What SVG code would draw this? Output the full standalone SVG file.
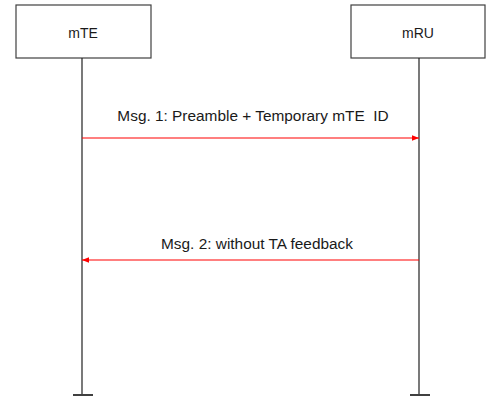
<svg xmlns="http://www.w3.org/2000/svg" width="486" height="399" viewBox="0 0 486 399">
<defs>
<style>
.box{fill:#fff;stroke:#404040;stroke-width:1.2}
.life{stroke:#202020;stroke-width:1.2;fill:none}
.bar{stroke:#404040;stroke-width:2;fill:none}
.msg{stroke:#ff0000;stroke-width:1.2;fill:none}
.lbl{font-family:"Liberation Sans",Arial,sans-serif;font-size:14px;fill:#1a1a1a;text-anchor:middle}
.mlbl{font-family:"Liberation Sans",Arial,sans-serif;font-size:15.4px;fill:#1a1a1a;text-anchor:middle;white-space:pre}
</style>
<marker id="ah" viewBox="0 0 10 10" refX="10" refY="5" markerWidth="7" markerHeight="7" orient="auto-start-reverse" markerUnits="userSpaceOnUse">
<path d="M0,1 L10,5 L0,9 z" fill="#ff0000"/>
</marker>
</defs>
<rect width="486" height="399" fill="#fff"/>
<g id="mTE">
<rect class="box" x="16" y="5" width="135" height="53"/>
<text class="lbl" x="83" y="38">mTE</text>
<line class="life" x1="82" y1="58" x2="82" y2="395"/>
<line class="bar" x1="73" y1="395" x2="93" y2="395"/>
</g>
<g id="mRU">
<rect class="box" x="351" y="5" width="134" height="53"/>
<text class="lbl" x="418" y="38">mRU</text>
<line class="life" x1="419" y1="58" x2="419" y2="395"/>
<line class="bar" x1="410" y1="395" x2="430" y2="395"/>
</g>
<g id="connectors">
<line class="msg" x1="82" y1="138" x2="419" y2="138" marker-end="url(#ah)"/>
<text class="mlbl" x="253" y="121" xml:space="preserve">Msg. 1: Preamble + Temporary mTE  ID</text>
<line class="msg" x1="419" y1="260" x2="82" y2="260" marker-end="url(#ah)"/>
<text class="mlbl" x="257" y="249">Msg. 2: without TA feedback</text>
</g>
</svg>
